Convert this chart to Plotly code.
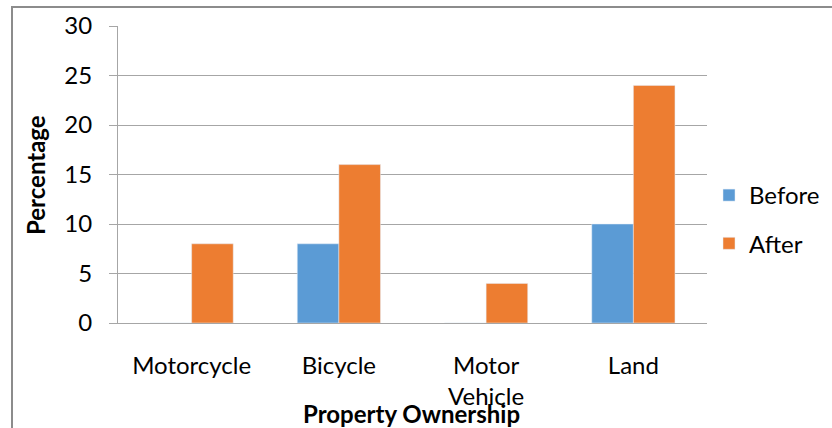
import plotly.graph_objects as go

categories = ["Motorcycle", "Bicycle", "Motor<br>Vehicle", "Land"]
before = [0, 8, 0, 10]
after = [8, 16, 4, 24]
y_ticks = [0, 5, 10, 15, 20, 25, 30]

FONT = "Lato, Open Sans, sans-serif"
W, H = 832, 428
L, R, T, B = 118, 125, 26, 105
pw, ph = W - L - R, H - T - B

def px_x(px):
    return (px - L) / pw

def px_y(py):
    return (H - B - py) / ph

fig = go.Figure()
fig.add_trace(go.Bar(x=categories, y=before, name="Before", marker_color="#5B9BD5",
                     legendgroup="a"))
fig.add_trace(go.Bar(x=categories, y=after, name="After", marker_color="#ED7D31",
                     legendgroup="b"))

fig.update_layout(
    width=W, height=H,
    margin=dict(l=L, r=R, t=T, b=B, pad=0, autoexpand=False),
    paper_bgcolor="white", plot_bgcolor="white",
    barmode="group", bargap=0.435, bargroupgap=0,
    font=dict(family=FONT, size=24, color="#000000"),
    showlegend=True,
    legend=dict(x=px_x(709), y=px_y(173), xanchor="left", yanchor="top",
                font=dict(size=24), tracegroupgap=14, itemwidth=30,
                bgcolor="rgba(0,0,0,0)"),
    xaxis=dict(showgrid=False, showline=True, linecolor="#A6A6A6", linewidth=1,
               ticks="", tickfont=dict(size=24), ticklabelstandoff=21,
               fixedrange=True, automargin=False),
    yaxis=dict(range=[0, 30], tickvals=y_ticks, showgrid=True, gridcolor="#A6A6A6",
               gridwidth=1, showline=True, linecolor="#A6A6A6", linewidth=1,
               ticks="outside", ticklen=8, tickcolor="#A6A6A6",
               tickfont=dict(size=24), ticklabelstandoff=12, zeroline=False,
               automargin=False, fixedrange=True),
)

fig.add_annotation(text="<b>Property Ownership</b>", xref="paper", yref="paper",
                   x=px_x(411), y=px_y(413), xanchor="center", yanchor="middle",
                   showarrow=False, font=dict(size=24, family=FONT))
fig.add_annotation(text="<b>Percentage</b>", xref="paper", yref="paper",
                   x=px_x(35), y=px_y(175), xanchor="center", yanchor="middle",
                   textangle=-90, showarrow=False, font=dict(size=24, family=FONT))

fig.add_shape(type="rect", xref="paper", yref="paper",
              x0=px_x(12), x1=px_x(845), y0=px_y(440), y1=px_y(7),
              line=dict(color="#8C8C8C", width=2), layer="below")

fig.write_html("out.html", config={"displayModeBar": False},
               post_script="document.body.style.margin='0';")
